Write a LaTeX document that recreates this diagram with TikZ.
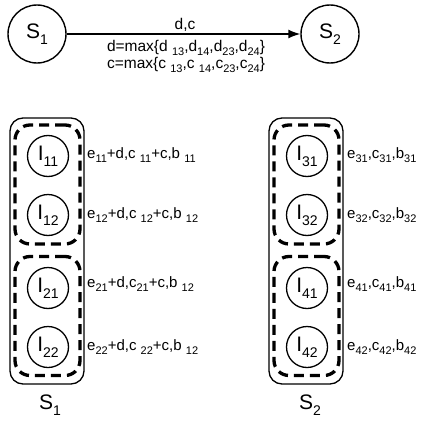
\documentclass[tikz,border=0pt]{standalone}
\usepackage{fontspec}
\setmainfont{Liberation Sans}
\usetikzlibrary{arrows.meta}
% lowered subscripts for small and large labels
\newcommand{\lo}[1]{\raisebox{-0.5ex}{\fontsize{11}{11}\selectfont #1}}
\newcommand{\blo}[1]{\raisebox{-0.55ex}{\fontsize{14}{14}\selectfont #1}}
\begin{document}
\begin{tikzpicture}[x=1pt,y=-1pt,
  state/.style={draw, circle, line width=1.4pt, minimum size=58pt, inner sep=0pt,
    font=\fontsize{21}{21}\selectfont},
  item/.style={draw, circle, line width=1.3pt, minimum size=41pt, inner sep=0pt,
    font=\fontsize{21}{21}\selectfont},
  group/.style={draw, rectangle, line width=1.3pt, rounded corners=13pt,
    minimum width=74pt, minimum height=266pt, inner sep=0pt},
  subgroup/.style={draw, rectangle, line width=3.3pt, dash pattern=on 10pt off 6pt,
    rounded corners=15pt, minimum width=65pt, minimum height=119pt, inner sep=0pt},
  lbl/.style={anchor=west, inner sep=0pt, font=\fontsize{15}{15}\selectfont},
  elbl/.style={inner sep=0pt, font=\fontsize{15.5}{17}\selectfont},
  big/.style={inner sep=0pt, font=\fontsize{21}{21}\selectfont}]
\useasboundingbox (0,0) rectangle (423,423);

% top: the two sets and the link between them
\node[state] (s1) at (37,34) {S\blo{1}};
\node[state] (s2) at (330,34) {S\blo{2}};
\draw[line width=1.4pt, -{Latex[length=12pt,width=9pt]}] (s1) -- (s2);
\node[elbl] (ldc) at (185,25) {d,c};
\node[elbl] (ld) at (186,48) {d=max\{d \lo{13},d\lo{14},d\lo{23},d\lo{24}\}};
\node[elbl] (lc) at (186,65) {c=max\{c \lo{13},c \lo{14},c\lo{23},c\lo{24}\}};

% left set S1
\node[group] (g1) at (47,251) {};
\node[subgroup] (g1a) at (47.5,184.5) {};
\node[subgroup] (g1b) at (47.5,316) {};
\node[item] (i11) at (48,156) {I\blo{11}};
\node[item] (i12) at (48,215) {I\blo{12}};
\node[item] (i21) at (48,288) {I\blo{21}};
\node[item] (i22) at (48,347) {I\blo{22}};
\node[lbl] (t11) at (87,155) {e\lo{11}+d,c \lo{11}+c,b \lo{11}};
\node[lbl] (t12) at (87,215) {e\lo{12}+d,c \lo{12}+c,b \lo{12}};
\node[lbl] (t21) at (87,284) {e\lo{21}+d,c\lo{21}+c,b \lo{12}};
\node[lbl] (t22) at (87,347) {e\lo{22}+d,c \lo{22}+c,b \lo{12}};
\node[big] (n1) at (50,405) {S\blo{1}};

% right set S2
\node[group] (g2) at (306,251) {};
\node[subgroup] (g2a) at (306.5,184.5) {};
\node[subgroup] (g2b) at (306.5,316) {};
\node[item] (i31) at (307,156) {I\blo{31}};
\node[item] (i32) at (307,215) {I\blo{32}};
\node[item] (i41) at (307,288) {I\blo{41}};
\node[item] (i42) at (307,347) {I\blo{42}};
\node[lbl] (t31) at (347,155) {e\lo{31},c\lo{31},b\lo{31}};
\node[lbl] (t32) at (347,215) {e\lo{32},c\lo{32},b\lo{32}};
\node[lbl] (t41) at (347,284) {e\lo{41},c\lo{41},b\lo{41}};
\node[lbl] (t42) at (347,347) {e\lo{42},c\lo{42},b\lo{42}};
\node[big] (n2) at (310,405) {S\blo{2}};
\end{tikzpicture}
\end{document}
